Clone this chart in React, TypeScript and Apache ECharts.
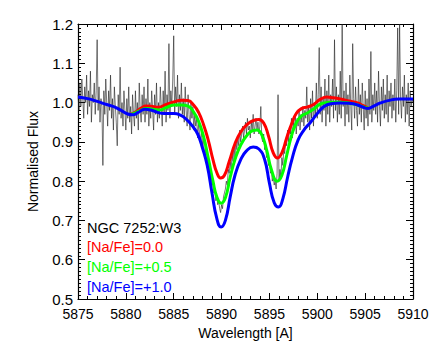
import React, { useEffect, useRef } from "react";
import * as echarts from "echarts";

// Observed spectrum, sampled every 0.1 A starting at 5875.0
const specStart = 5875.0;
const specStep = 0.1;
const specFlux = [
  1.02, 0.98, 1.05, 0.99, 1.06, 1.01, 0.96, 1.04, 1.0, 1.07,
  0.97, 1.03, 0.99, 1.08, 0.95, 1.02, 1.0, 1.05, 0.97, 1.03,
  1.16, 0.98, 1.04, 0.95, 1.01, 0.99, 0.84, 1.03, 0.97, 1.06,
  1.0, 0.94, 1.03, 0.98, 1.07, 0.96, 1.01, 0.93, 1.04, 0.99,
  0.95, 0.89, 1.02, 0.97, 1.09, 0.96, 1.0, 0.94, 1.03, 0.98,
  0.93, 1.01, 0.96, 1.04, 0.95, 0.99, 0.92, 1.02, 0.97, 0.94,
  1.03, 0.96, 1.0, 0.93, 1.05, 0.98, 0.95, 1.02, 0.97, 1.04,
  0.95, 1.01, 0.97, 1.06, 0.94, 1.0, 0.96, 1.03, 0.98, 0.93,
  1.02, 0.97, 1.05, 0.95, 1.0, 0.96, 1.04, 0.99, 0.94, 1.03,
  0.97, 1.08, 0.95, 1.02, 0.98, 1.15, 0.96, 1.03, 0.99, 1.06,
  1.17, 0.97, 1.04, 0.99, 1.07, 0.96, 1.02, 0.98, 1.05, 0.97,
  1.01, 0.95, 1.04, 0.98, 0.94, 1.02, 0.97, 0.93, 1.0, 0.96,
  0.99, 0.93, 0.97, 0.94, 0.96, 0.91, 0.95, 0.92, 0.9, 0.93,
  0.89, 0.91, 0.87, 0.88, 0.85, 0.86, 0.83, 0.84, 0.8, 0.82,
  0.79, 0.8, 0.77, 0.78, 0.75, 0.76, 0.74, 0.75, 0.73, 0.72,
  0.74, 0.73, 0.76, 0.77, 0.78, 0.8, 0.79, 0.83, 0.82, 0.85,
  0.83, 0.87, 0.85, 0.89, 0.86, 0.9, 0.88, 0.91, 0.89, 0.93,
  0.9, 0.92, 0.94, 0.91, 0.93, 0.95, 0.92, 0.96, 0.93, 0.94,
  0.91, 0.95, 0.93, 0.97, 0.92, 0.94, 0.96, 0.93, 0.95, 0.92,
  0.94, 0.99, 0.91, 0.9, 0.92, 0.88, 0.89, 0.86, 0.87, 0.84,
  0.85, 0.82, 0.83, 0.8, 0.81, 0.79, 0.8, 0.78, 0.82, 1.02,
  0.8, 0.83, 0.81, 0.86, 0.84, 0.88, 0.87, 0.91, 0.89, 0.93,
  0.9, 0.94, 0.92, 0.96, 0.91, 0.95, 0.93, 0.97, 0.92, 0.96,
  0.94, 0.98, 0.93, 0.97, 0.95, 0.99, 0.94, 0.98, 0.96, 1.04,
  0.95, 0.99, 0.93, 1.01, 0.96, 1.03, 0.94, 1.0, 0.97, 1.05,
  0.96, 1.02, 1.14, 0.97, 1.04, 0.95, 1.01, 0.98, 1.06, 0.94,
  1.03, 0.97, 1.07, 0.95, 1.02, 0.99, 1.06, 0.96, 1.16, 0.98,
  1.04, 0.95, 1.02, 0.97, 1.08, 0.96, 1.2, 0.99, 1.03, 0.94,
  1.05, 0.97, 1.02, 0.95, 1.07, 0.99, 0.93, 1.15, 1.01, 0.96,
  1.04, 0.98, 0.94, 1.06, 0.97, 1.02, 0.95, 1.05, 0.99, 0.93,
  1.03, 0.96, 1.01, 0.94, 1.06, 0.97, 1.13, 0.95, 1.02, 0.98,
  1.05, 0.97, 1.03, 0.95, 1.08, 0.99, 0.94, 1.04, 0.98, 1.06,
  0.96, 1.02, 0.97, 1.07, 0.95, 1.03, 0.99, 1.05, 0.96, 1.02,
  0.98, 1.06, 0.95, 1.03, 1.19, 0.97, 1.2, 1.01, 0.96, 1.04,
  0.99, 1.07, 0.95, 1.02, 0.97, 1.05, 0.94, 1.03, 0.99, 1.01,
  1.0,
];

// Model [Na/Fe]=+1.0 (blue)
const blueWl = [
  5875, 5876, 5877, 5878, 5878.8, 5879.5, 5880.2, 5880.7, 5881.3, 5882.0,
  5882.6, 5883.3, 5884.0, 5885.0, 5885.7, 5886.3, 5886.9, 5887.5, 5888.0, 5888.5,
  5889.0, 5889.5, 5889.95, 5890.4, 5890.9, 5891.4, 5892.0, 5892.6, 5893.3, 5893.9,
  5894.5, 5895.0, 5895.5, 5895.95, 5896.4, 5896.9, 5897.4, 5898.0, 5898.6, 5899.3,
  5900.0, 5900.7, 5901.4, 5902.4, 5903.3, 5904.2, 5904.8, 5905.3, 5905.9, 5906.6,
  5907.4, 5908.5, 5910,
];
const blueFlux = [
  1.014, 1.01, 1.003, 0.995, 0.989, 0.98, 0.971, 0.969, 0.975, 0.983,
  0.981, 0.975, 0.972, 0.972, 0.968, 0.958, 0.942, 0.92, 0.885, 0.84,
  0.77, 0.705, 0.683, 0.7, 0.76, 0.815, 0.855, 0.877, 0.887, 0.882,
  0.855, 0.795, 0.745, 0.734, 0.755, 0.81, 0.86, 0.905, 0.93, 0.95,
  0.972, 0.99, 0.997, 0.999, 0.998, 0.994, 0.988, 0.985, 0.991, 0.999,
  1.005, 1.009, 1.009,
];

// Model [Na/Fe]=0.0 (red)
const redWl = [
  5880.4, 5881.0, 5881.6, 5882.1, 5882.8, 5883.4, 5884.2, 5885.1, 5885.8, 5886.5,
  5887.1, 5887.6, 5888.1, 5888.6, 5889.1, 5889.5, 5889.9, 5890.3, 5890.8, 5891.4,
  5892.0, 5892.7, 5893.4, 5893.9, 5894.4, 5894.9, 5895.4, 5895.85, 5896.3, 5896.8,
  5897.3, 5897.8, 5898.3, 5899.0, 5899.6, 5900.3, 5901.0, 5901.7, 5902.4, 5903.3,
  5904.2, 5904.8, 5905.3,
];
const redFlux = [
  0.969, 0.976, 0.986, 0.991, 0.99, 0.988, 0.995, 1.002, 1.006, 1.005,
  0.993, 0.975, 0.945, 0.905, 0.855, 0.822, 0.808, 0.815, 0.85, 0.895,
  0.925, 0.945, 0.955, 0.957, 0.948, 0.915, 0.872, 0.859, 0.872, 0.91,
  0.945, 0.972, 0.984, 0.989, 0.995, 1.008, 1.014, 1.012, 1.009, 1.004,
  0.999, 0.992, 0.986,
];

// Model [Na/Fe]=+0.5 (green)
const greenWl = [
  5880.4, 5881.0, 5881.6, 5882.1, 5882.8, 5883.5, 5884.2, 5885.1, 5885.8, 5886.5,
  5887.1, 5887.6, 5888.1, 5888.6, 5889.1, 5889.5, 5889.95, 5890.4, 5890.9, 5891.4,
  5892.0, 5892.7, 5893.3, 5893.7, 5894.2, 5894.7, 5895.2, 5895.8, 5896.3, 5896.8,
  5897.3, 5897.8, 5898.3, 5899.0, 5899.6, 5900.3, 5901.0, 5902.4, 5903.3, 5904.2,
  5904.8, 5905.3,
];
const greenFlux = [
  0.969, 0.974, 0.981, 0.985, 0.983, 0.981, 0.987, 0.994, 0.994, 0.991,
  0.975, 0.952, 0.915, 0.86, 0.8, 0.76, 0.744, 0.758, 0.81, 0.855,
  0.892, 0.918, 0.929, 0.93, 0.918, 0.88, 0.83, 0.8, 0.815, 0.865,
  0.915, 0.948, 0.965, 0.974, 0.983, 0.996, 1.0, 1.001, 0.999, 0.994,
  0.989, 0.986,
];

const legendLines = [
  { text: "NGC 7252:W3", color: "#000000" },
  { text: "[Na/Fe]=0.0", color: "#ff0000" },
  { text: "[Na/Fe]=+0.5", color: "#00ff00" },
  { text: "[Na/Fe]=+1.0", color: "#0000ff" },
];

const FONT = "'Liberation Sans', Arial, Helvetica, sans-serif";

const pairs = (xs: number[], ys: number[]) => xs.map((x, i) => [x, ys[i]]);

export default function App() {
  const ref = useRef<HTMLDivElement>(null);
  useEffect(() => {
    if (!ref.current) return;
    const chart = echarts.init(ref.current, undefined, { renderer: "svg" });
    const specData = specFlux.map((f, i) => [specStart + i * specStep, f]);
    const axisCommon = {
      axisLine: { show: true, lineStyle: { color: "#000", width: 1.2 } },
      splitLine: { show: false },
    };
    const xBase = {
      type: "value" as const,
      min: 5875,
      max: 5910,
      interval: 5,
      ...axisCommon,
      axisTick: { show: true, inside: true, length: 6, lineStyle: { color: "#000", width: 1 } },
      minorTick: { show: true, splitNumber: 5, length: 3, lineStyle: { color: "#000", width: 1 } },
    };
    const yBase = {
      type: "value" as const,
      min: 0.5,
      max: 1.2,
      interval: 0.1,
      ...axisCommon,
      axisTick: { show: true, inside: true, length: 7, lineStyle: { color: "#000", width: 1 } },
      minorTick: { show: true, splitNumber: 10, length: 3, lineStyle: { color: "#000", width: 1 } },
    };
    const option = {
      animation: false,
      backgroundColor: "#ffffff",
      grid: { left: 78, right: 23, top: 24, bottom: 50 },
      xAxis: [
        {
          ...xBase,
          position: "bottom",
          name: "Wavelength [A]",
          nameLocation: "middle",
          nameGap: 24,
          nameTextStyle: { color: "#000", fontSize: 14, fontFamily: FONT },
          axisLabel: {
            color: "#000",
            fontSize: 14,
            fontFamily: FONT,
            margin: 8,
            formatter: (v: number) => String(v),
          },
        },
        { ...xBase, position: "top", axisLabel: { show: false } },
      ],
      yAxis: [
        {
          ...yBase,
          position: "left",
          name: "Normalised Flux",
          nameLocation: "middle",
          nameGap: 38,
          nameTextStyle: { color: "#000", fontSize: 14, fontFamily: FONT },
          axisLabel: {
            color: "#000",
            fontSize: 15,
            fontFamily: FONT,
            margin: 5,
            formatter: (v: number) => v.toFixed(1),
          },
        },
        { ...yBase, position: "right", axisLabel: { show: false } },
      ],
      graphic: legendLines.map((l, i) => ({
        type: "text",
        left: 87,
        top: 220 + i * 19.7,
        style: { text: l.text, fill: l.color, fontSize: 14.5, fontFamily: FONT },
      })),
      series: [
        {
          type: "line",
          data: specData,
          showSymbol: false,
          lineStyle: { color: "#1e1e1e", width: 0.6 },
          z: 1,
        },
        {
          type: "line",
          data: pairs(redWl, redFlux),
          smooth: true,
          showSymbol: false,
          lineStyle: { color: "#ff0000", width: 3 },
          z: 2,
        },
        {
          type: "line",
          data: pairs(greenWl, greenFlux),
          smooth: true,
          showSymbol: false,
          lineStyle: { color: "#00ff00", width: 3 },
          z: 3,
        },
        {
          type: "line",
          data: pairs(blueWl, blueFlux),
          smooth: true,
          showSymbol: false,
          lineStyle: { color: "#0000ff", width: 3 },
          z: 4,
        },
      ],
    };
    chart.setOption(option as any);
    return () => chart.dispose();
  }, []);
  return (
    <div
      ref={ref}
      style={{ position: "fixed", left: 0, top: 0, width: 436, height: 349 }}
    />
  );
}
